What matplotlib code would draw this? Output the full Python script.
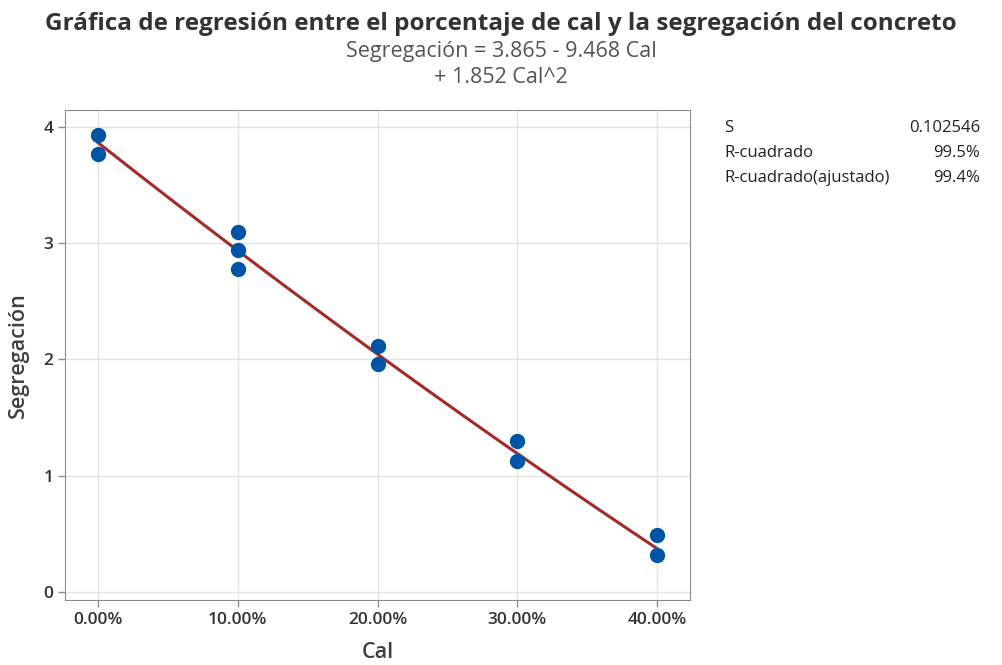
import numpy as np
import matplotlib
matplotlib.use("Agg")
import matplotlib.pyplot as plt
from matplotlib.ticker import FuncFormatter

plt.rcParams['font.family'] = ['Open Sans', 'DejaVu Sans']

# Observations
cal = [0.0, 0.0, 0.1, 0.1, 0.1, 0.2, 0.2, 0.3, 0.3, 0.4, 0.4]
segregacion = [3.93, 3.77, 3.10, 2.94, 2.78, 2.12, 1.96, 1.30, 1.13, 0.49, 0.32]

# Quadratic fit coefficients
b0, b1, b2 = 3.865, -9.468, 1.852

stat_labels = ["S", "R-cuadrado", "R-cuadrado(ajustado)"]
stat_values = ["0.102546", "99.5%", "99.4%"]

x_ticks = [0.0, 0.1, 0.2, 0.3, 0.4]
y_ticks = [0, 1, 2, 3, 4]

fig = plt.figure(figsize=(10.02, 6.65), dpi=100)
ax = fig.add_axes([0.0649, 0.0977, 0.6237, 0.7369])

xs = np.linspace(min(cal), max(cal), 200)
ax.plot(xs, b0 + b1 * xs + b2 * xs ** 2, color="#A52A2A", lw=2.2, zorder=3)
ax.plot(cal, segregacion, "o", color="#0054A6", markersize=10, zorder=4)

ax.set_xlim(-0.0236, 0.4236)
ax.set_ylim(-0.069, 4.146)
ax.set_xticks(x_ticks)
ax.set_yticks(y_ticks)
ax.xaxis.set_major_formatter(FuncFormatter(lambda v, p: f"{v*100:.2f}%"))
ax.grid(True, color="#e3e3e3", lw=1)
ax.set_axisbelow(True)
for s in ax.spines.values():
    s.set_color("#8c8c8c")
ax.tick_params(axis="both", colors="#8c8c8c", labelcolor="#333333",
               labelsize=12.5, length=5, width=1)
for lbl in ax.get_xticklabels() + ax.get_yticklabels():
    lbl.set_fontweight("semibold")

ax.set_xlabel("Cal", fontsize=15.5, color="#404040", fontweight="semibold", labelpad=10)
ax.set_ylabel("Segregación", fontsize=15.5, color="#404040", fontweight="semibold", labelpad=10)

fig.text(0.5, 0.964, "Gráfica de regresión entre el porcentaje de cal y la segregación del concreto",
         ha="center", va="center", fontsize=17.5, fontweight="bold", color="#333333")
fig.text(0.5, 0.922, "Segregación = 3.865 - 9.468 Cal", ha="center", va="center",
         fontsize=15.5, color="#555555")
fig.text(0.5, 0.884, "+ 1.852 Cal^2", ha="center", va="center",
         fontsize=15.5, color="#555555")

for i, (lab, val) in enumerate(zip(stat_labels, stat_values)):
    y = 1 - (128 + 25 * i) / 665
    fig.text(724 / 1002, y, lab, ha="left", va="center", fontsize=12, color="#222222")
    fig.text(980 / 1002, y, val, ha="right", va="center", fontsize=12, color="#222222")

fig.savefig("out.png", dpi=100, facecolor="white")
